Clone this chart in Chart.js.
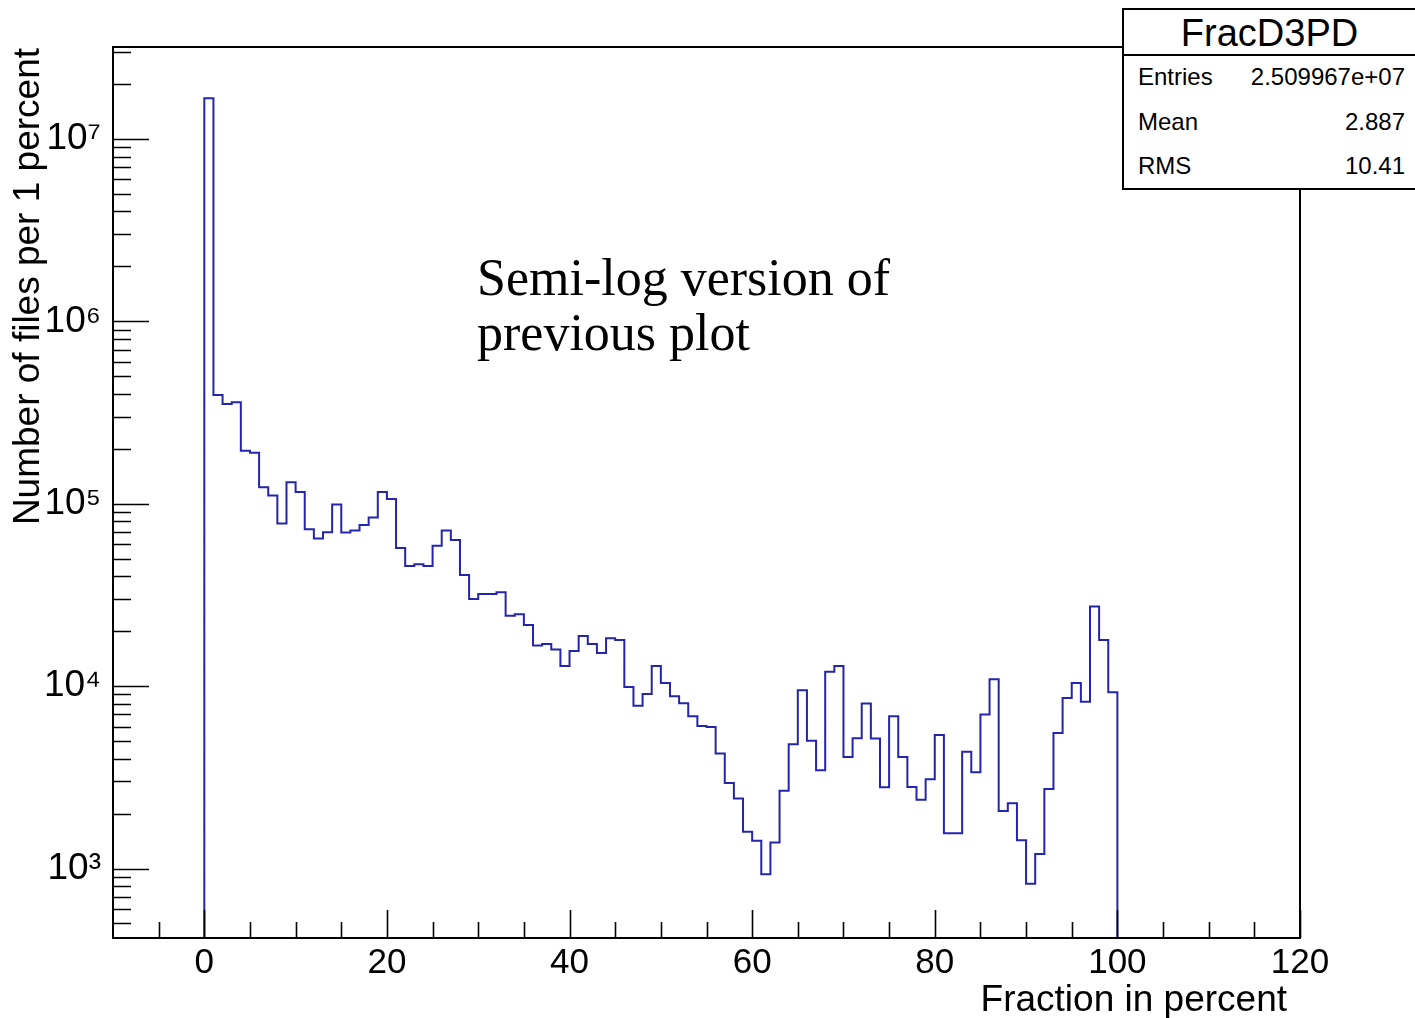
<!DOCTYPE html>
<html>
<head>
<meta charset="utf-8">
<script src="https://cdn.jsdelivr.net/npm/chart.js@4.4.0/dist/chart.umd.min.js"></script>
<style>
  body { margin: 0; background: #fff; }
  #wrap { position: relative; width: 1415px; height: 1018px; overflow: hidden; background: #fff;
          font-family: "Liberation Sans", Arial, sans-serif; color: #000; }
  canvas { position: absolute; left: 0; top: 0; }
  .txt { position: absolute; white-space: nowrap; color: #000; }
  #ytitle { left: 8px; top: 648px; width: 600px; text-align: right; font-size: 37px; line-height: 37px;
            transform-origin: 0 0; transform: rotate(-90deg); }
  #xtitle { right: 128px; top: 980px; font-size: 37px; line-height: 37px; }
  #note { left: 477px; top: 250px; font-family: "Liberation Serif", "DejaVu Serif", serif; font-size: 52px; line-height: 55px; }
  #stats { position: absolute; left: 1122px; top: 8px; width: 320px; height: 178px; border: 2px solid #000;
           background: #fff; }
  #stats .title { position: absolute; left: 0; top: 0; width: 291px; height: 44px; border-bottom: 2px solid #000;
                  text-align: center; font-size: 38px; line-height: 46px; }
  #stats .row { position: absolute; left: 14px; width: 267px; font-size: 24px; line-height: 28px; }
  #stats .row span { position: absolute; right: 0; top: 0; }
</style>
</head>
<body>
<div id="wrap">
  <canvas id="c" width="1415" height="1018"></canvas>
  <div class="txt" id="ytitle">Number of files per 1 percent</div>
  <div class="txt" id="xtitle">Fraction in percent</div>
  <div class="txt" id="note">Semi-log version of<br>previous plot</div>
  <div id="stats">
    <div class="title">FracD3PD</div>
    <div class="row" style="top:53px">Entries<span>2.509967e+07</span></div>
    <div class="row" style="top:98px">Mean<span>2.887</span></div>
    <div class="row" style="top:142px">RMS<span>10.41</span></div>
  </div>
</div>
<script>
// ---- data ----
const binLowEdges = Array.from({ length: 100 }, (_, i) => i); // 1-percent bins 0..99
const binWidth = 1;
const counts = [
  1.67e7, 3.95e5, 3.52e5, 3.60e5, 1.95e5, 1.90e5, 1.23e5, 1.11e5, 7.80e4, 1.31e5,
  1.16e5, 7.25e4, 6.44e4, 6.98e4, 9.90e4, 6.95e4, 7.13e4, 7.65e4, 8.40e4, 1.16e5,
  1.06e5, 5.72e4, 4.56e4, 4.66e4, 4.56e4, 5.89e4, 7.13e4, 6.33e4, 4.06e4, 3.00e4,
  3.20e4, 3.20e4, 3.27e4, 2.43e4, 2.48e4, 2.16e4, 1.67e4, 1.70e4, 1.59e4, 1.29e4,
  1.56e4, 1.88e4, 1.70e4, 1.52e4, 1.83e4, 1.79e4, 9.90e3, 7.80e3, 9.05e3, 1.29e4,
  1.04e4, 8.80e3, 8.05e3, 6.84e3, 6.05e3, 5.96e3, 4.27e3, 2.94e3, 2.42e3, 1.59e3,
  1.42e3, 931,    1.39e3, 2.67e3, 4.80e3, 9.50e3, 5.02e3, 3.46e3, 1.20e4, 1.29e4,
  4.09e3, 5.18e3, 8.02e3, 5.16e3, 2.79e3, 6.84e3, 4.09e3, 2.80e3, 2.38e3, 3.09e3,
  5.40e3, 1.56e3, 1.56e3, 4.36e3, 3.37e3, 6.98e3, 1.09e4, 2.07e3, 2.28e3, 1.43e3,
  826,    1.20e3, 2.73e3, 5.54e3, 8.60e3, 1.04e4, 8.22e3, 2.73e4, 1.79e4, 9.26e3
];
const xMajorTicks = [0, 20, 40, 60, 80, 100, 120];
const xMinorTicks = [-5, 5, 10, 15, 25, 30, 35, 45, 50, 55, 65, 70, 75, 85, 90, 95, 105, 110, 115];
const yDecadeTicks = [1e3, 1e4, 1e5, 1e6, 1e7];
const X_MIN = -10, X_MAX = 120;
const Y_MIN = 416, Y_MAX = 3.19e7;

// ---- build histogram outline points ----
const lastEdge = binLowEdges[binLowEdges.length - 1] + binWidth;
const histPoints = [{ x: binLowEdges[0], y: Y_MIN }]
  .concat(counts.map((c, i) => ({ x: binLowEdges[i], y: c })))
  .concat([{ x: lastEdge, y: counts[counts.length - 1] }, { x: lastEdge, y: Y_MIN }]);

const SUP = { '0': '⁰', '1': '¹', '2': '²', '3': '³', '4': '⁴', '5': '⁵', '6': '⁶', '7': '⁷', '8': '⁸', '9': '⁹' };
function decadeLabel(v) {
  const e = Math.round(Math.log10(v));
  return '10' + String(e).split('').map(d => SUP[d]).join('');
}

const rootFrame = {
  id: 'rootFrame',
  afterDatasetsDraw(chart) {
    const { ctx, chartArea: a, scales: { x, y } } = chart;
    ctx.save();
    ctx.strokeStyle = '#000';
    ctx.lineWidth = 1.6;
    ctx.beginPath();
    xMajorTicks.forEach(v => { const p = Math.round(x.getPixelForValue(v)) + 0.5; ctx.moveTo(p, a.bottom); ctx.lineTo(p, a.bottom - 28); });
    xMinorTicks.forEach(v => { const p = Math.round(x.getPixelForValue(v)) + 0.5; ctx.moveTo(p, a.bottom); ctx.lineTo(p, a.bottom - 16); });
    for (let e = 2; e <= 7; e++) {
      for (let m = 1; m <= 9; m++) {
        const v = m * Math.pow(10, e);
        if (v < Y_MIN || v > Y_MAX) continue;
        const p = Math.round(y.getPixelForValue(v)) + 0.5;
        ctx.moveTo(a.left, p);
        ctx.lineTo(a.left + (m === 1 ? 36 : 18), p);
      }
    }
    ctx.stroke();
    ctx.lineWidth = 2;
    ctx.strokeRect(a.left, a.top, a.right - a.left, a.bottom - a.top);
    ctx.restore();
  }
};

new Chart(document.getElementById('c'), {
  type: 'line',
  data: {
    datasets: [{
      data: histPoints,
      stepped: 'before',
      borderColor: '#2424ad',
      borderWidth: 2,
      pointRadius: 0,
      fill: false,
      tension: 0
    }]
  },
  options: {
    responsive: false,
    devicePixelRatio: 1,
    animation: false,
    events: [],
    layout: { padding: { top: 47, right: 115, left: 0, bottom: 0 } },
    plugins: { legend: { display: false }, tooltip: { enabled: false }, title: { display: false } },
    scales: {
      x: {
        type: 'linear',
        min: X_MIN, max: X_MAX,
        afterBuildTicks: s => { s.ticks = xMajorTicks.map(v => ({ value: v })); },
        afterFit: s => { s.height = 80; },
        grid: { display: false, drawTicks: false },
        border: { display: false },
        ticks: { color: '#000', padding: 4, maxRotation: 0, autoSkip: false,
                 font: { family: 'Liberation Sans', size: 35 } }
      },
      y: {
        type: 'logarithmic',
        min: Y_MIN, max: Y_MAX,
        afterBuildTicks: s => { s.ticks = yDecadeTicks.map(v => ({ value: v })); },
        afterFit: s => { s.width = 113; },
        grid: { display: false, drawTicks: false },
        border: { display: false },
        ticks: { color: '#000', padding: 12, autoSkip: false, callback: v => decadeLabel(v),
                 font: { family: 'Liberation Sans', size: 37 } }
      }
    }
  },
  plugins: [rootFrame]
});
</script>
</body>
</html>
